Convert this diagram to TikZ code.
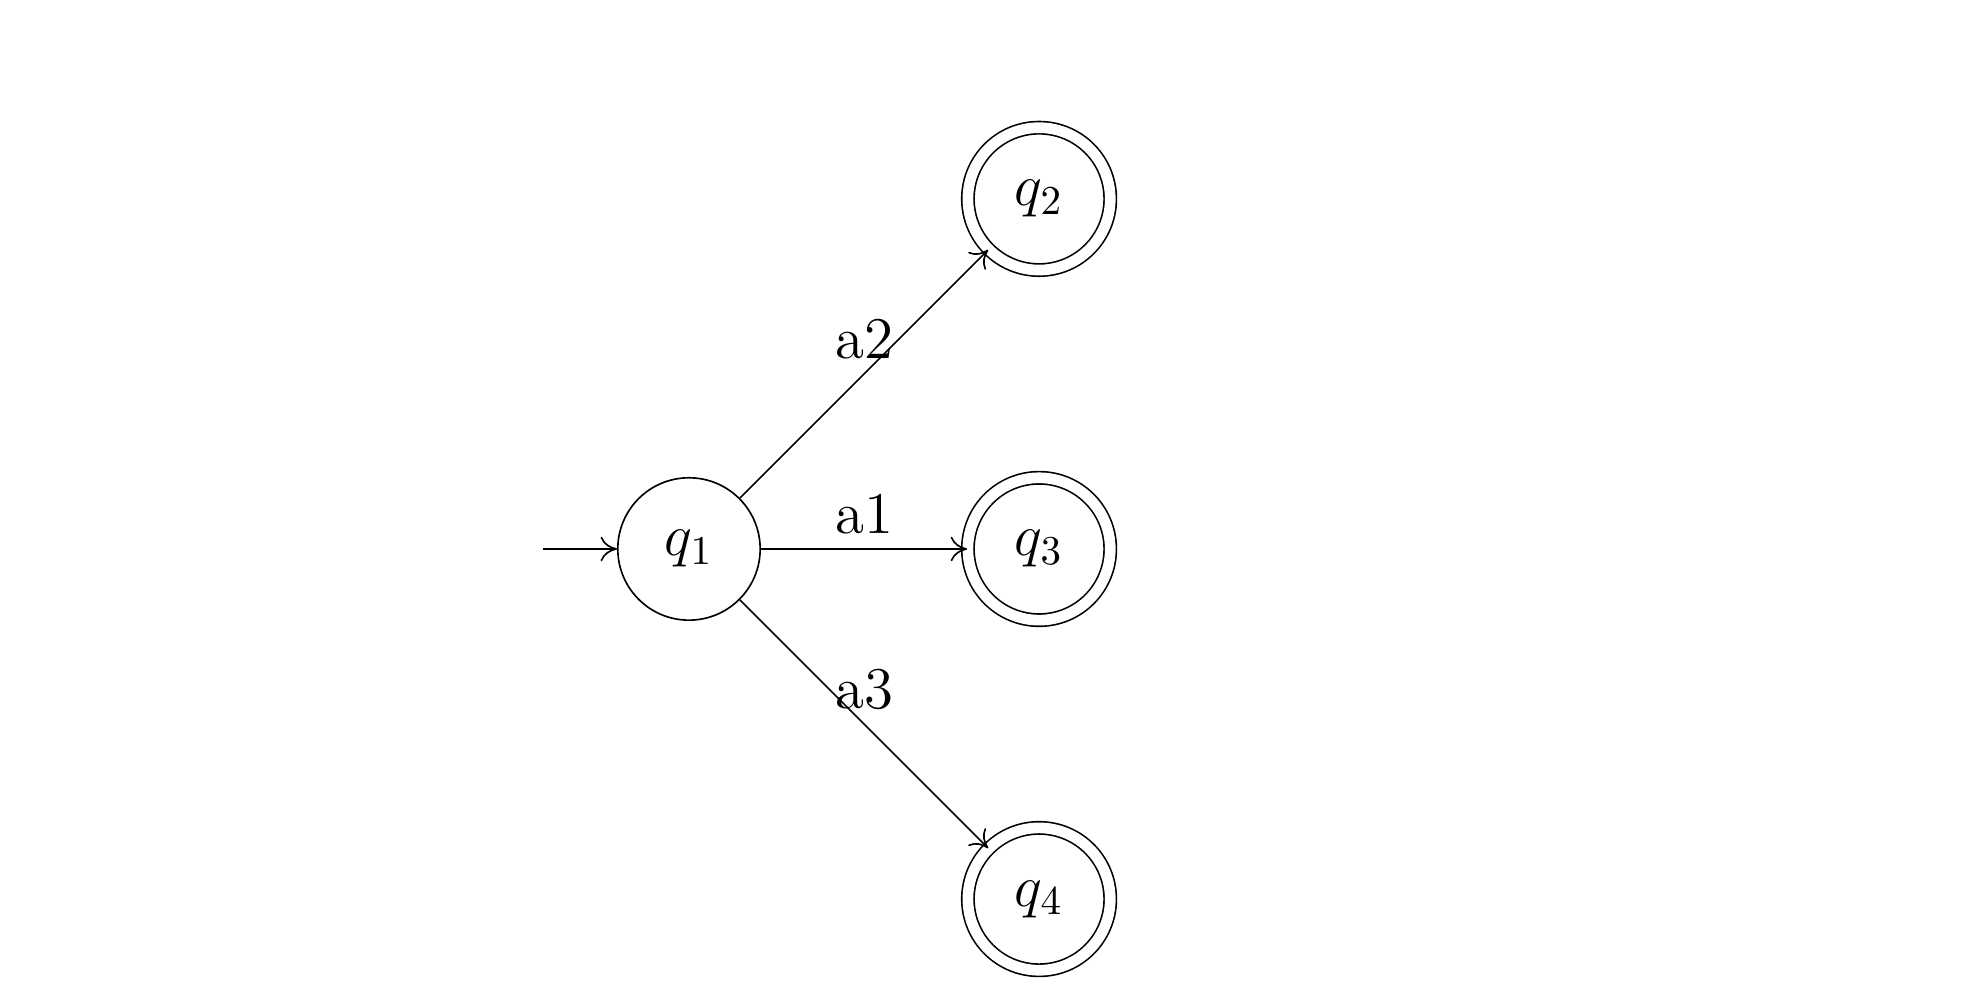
\documentclass[tikz,border=0pt]{standalone}
\usetikzlibrary{arrows.meta}
\begin{document}
\begin{tikzpicture}
      [font=\Large,>={To[length=4pt,width=6pt]},
       state/.style={circle,draw,minimum size=1.22cm,inner sep=0pt},
       final/.style={state,double,double distance=2.6pt}]
      \useasboundingbox (-5.904,-3.916) rectangle (10.977,4.704);
      \node at (0,0) (q1) [state] {$q_1$};
      \node at (3,3) (q2) [final] {$q_2$};
      \node at (3,0) (q3) [final] {$q_3$};
      \node at (3,-3) (q4) [final] {$q_4$};
      \coordinate (start) at (-1.25,0);
      \draw [->] (start) to (q1);
      \foreach \t/\l in {2/a2,3/a1,4/a3}
         \draw [->] (q1) to node [above] {\l} (q\t);
    \end{tikzpicture}
\end{document}
